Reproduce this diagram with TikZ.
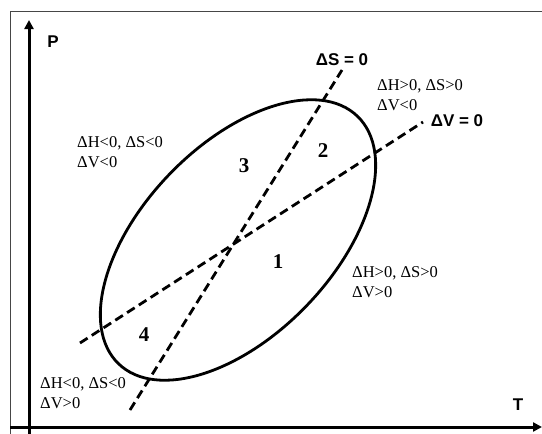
\documentclass[tikz,border=0pt]{standalone}
\usepackage{fontspec}
\setmainfont{Liberation Serif}
\newfontfamily\labelsans{Liberation Sans}
\usepackage{tikz}
\usetikzlibrary{arrows.meta, positioning}
\usepackage{xcolor}
\definecolor{phaseink}{RGB}{0,0,0}
\definecolor{phaseframe}{RGB}{70,70,70}

\begin{document}
\begin{tikzpicture}[
  x=1pt, y=-1pt,
  axis/.style={line width=3pt, phaseink, -{Triangle[length=9pt, width=9pt]}},
  boundary/.style={line width=2.8pt, dash pattern=on 9pt off 5pt, phaseink},
  region/.style={font=\fontsize{21}{24}\selectfont\bfseries, inner sep=0pt},
  cond/.style={font=\fontsize{16.5}{20}\selectfont, align=left,
               anchor=west, inner sep=0pt},
  tag/.style={font=\labelsans\fontsize{17}{20}\selectfont\bfseries, inner sep=0pt},
]
  \useasboundingbox (0,0) rectangle (542,434);

  % frame
  \draw[phaseframe, line width=1.2pt] (10.5,434) -- (10.5,11.5) -- (542,11.5);

  % axes
  \coordinate (pbot) at (29,434);
  \coordinate (ptop) at (29,20);
  \coordinate (tleft) at (10,427);
  \coordinate (tright) at (542,427);
  \draw[axis] (pbot) -- (ptop);
  \draw[axis] (tleft) -- (tright);
  \node[tag] (plabel) at (53,42) {P};
  \node[tag] (tlabel) at (518,405) {T};

  % phase ellipse
  \draw[line width=2.8pt] (238,240) ellipse [x radius=172pt, y radius=95pt, rotate=46];

  % zero lines
  \coordinate (s0) at (130,410);
  \coordinate (s1) at (342,70);
  \coordinate (v0) at (80,343);
  \coordinate (v1) at (423,122);
  \draw[boundary] (s0) -- (s1);
  \draw[boundary] (v0) -- (v1);
  \node[tag] (slabel) at (342,60) {ΔS = 0};
  \node[tag] (vlabel) at (457,121) {ΔV = 0};

  % region numbers
  \node[region] (r1) at (278,262) {1};
  \node[region] (r2) at (323,151) {2};
  \node[region] (r3) at (244,166) {3};
  \node[region] (r4) at (144,335) {4};

  % sign conditions
  \node[cond] (c3) at (77,152) {ΔH<0, ΔS<0\\ΔV<0};
  \node[cond] (c2) at (377,95) {ΔH>0, ΔS>0\\ΔV<0};
  \node[cond] (c1) at (352,282) {ΔH>0, ΔS>0\\ΔV>0};
  \node[cond] (c4) at (40,393) {ΔH<0, ΔS<0\\ΔV>0};
\end{tikzpicture}
\end{document}
